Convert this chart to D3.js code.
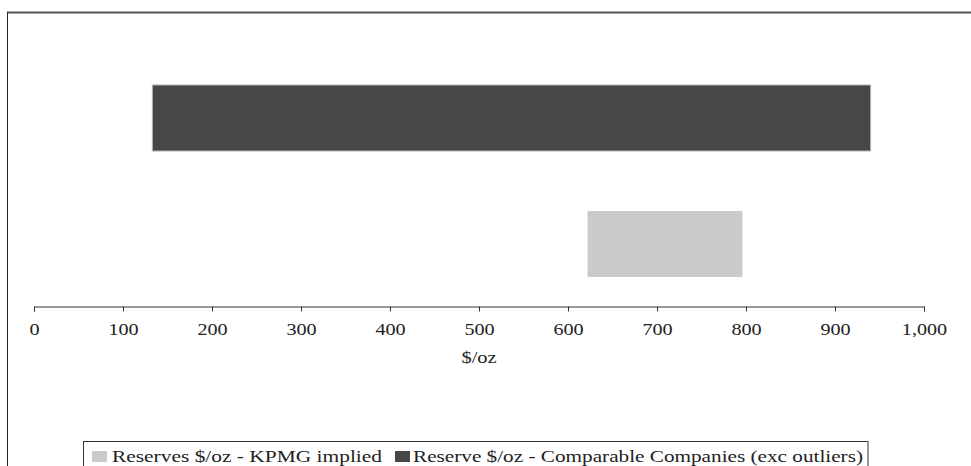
<!DOCTYPE html>
<html>
<head>
<meta charset="utf-8">
<script src="https://cdn.jsdelivr.net/npm/d3@7"></script>
<style>
  html, body { margin: 0; padding: 0; background: #fff; }
  svg { display: block; }
  text { font-family: "Liberation Serif", "Times New Roman", serif; fill: #222; }
</style>
</head>
<body>
<svg id="chart" width="971" height="466"></svg>
<script>
// Data
const categories = ["Reserve $/oz - Comparable Companies (exc outliers)", "Reserves $/oz - KPMG implied"];
const lowValues = [133, 622];
const highValues = [940, 796];
const barColors = ["#474747", "#c9cacc"];
const tickValues = [0, 100, 200, 300, 400, 500, 600, 700, 800, 900, 1000];
const axisTitle = "$/oz";
const legendLabels = ["Reserves $/oz - KPMG implied", "Reserve $/oz - Comparable Companies (exc outliers)"];
const legendColors = ["#c9cacc", "#474747"];

const svg = d3.select("#chart");

// frame
svg.append("line").attr("x1", 7).attr("x2", 971).attr("y1", 12.5).attr("y2", 12.5)
  .attr("stroke", "#555").attr("stroke-width", 2);
svg.append("line").attr("x1", 7.5).attr("x2", 7.5).attr("y1", 12).attr("y2", 466)
  .attr("stroke", "#222").attr("stroke-width", 1);

const x = d3.scaleLinear().domain([0, 1000]).range([34, 924]);
const y = d3.scaleBand().domain(categories).range([55, 307]).paddingInner(0.476).paddingOuter(0.238);

// bars
const data = categories.map((c, i) => ({ c, lo: lowValues[i], hi: highValues[i], color: barColors[i] }));
svg.selectAll("rect.bar").data(data).enter().append("rect")
  .attr("class", "bar")
  .attr("x", d => x(d.lo))
  .attr("width", d => x(d.hi) - x(d.lo))
  .attr("y", d => y(d.c))
  .attr("height", y.bandwidth())
  .attr("fill", d => d.color)
  .attr("stroke", (d, i) => i === 0 ? "#b5b5b5" : "none")
  .attr("stroke-width", 1);

// axis
const axis = d3.axisBottom(x).tickValues(tickValues).tickSize(5).tickSizeOuter(5)
  .tickFormat(d3.format(","));
const gAxis = svg.append("g").attr("transform", "translate(0,306.5)").call(axis);
gAxis.select(".domain").attr("stroke", "#333");
gAxis.selectAll(".tick line").attr("stroke", "#333");
gAxis.selectAll(".tick text")
  .attr("y", 28.5).attr("dy", 0)
  .attr("font-size", 16)
  .attr("fill", "#222")
  .attr("font-family", "'Liberation Serif', serif")
  .attr("transform", "scale(1.26,1)");

// axis title
svg.append("text")
  .attr("transform", `translate(${x(500)},363) scale(1.28,1)`)
  .attr("text-anchor", "middle")
  .attr("font-size", 16)
  .text(axisTitle);

// legend
svg.append("rect").attr("x", 83.5).attr("y", 441.5).attr("width", 784.5).attr("height", 40)
  .attr("fill", "#fff").attr("stroke", "#333").attr("stroke-width", 1);
const legendItems = [
  { label: legendLabels[0], color: legendColors[0], sx: 92, tx: 112, tw: 270 },
  { label: legendLabels[1], color: legendColors[1], sx: 395, tx: 413, tw: 450 }
];
legendItems.forEach(it => {
  svg.append("rect").attr("x", it.sx).attr("y", 451).attr("width", 15).attr("height", 11)
    .attr("fill", it.color);
  svg.append("text").attr("x", it.tx).attr("y", 461.5)
    .attr("font-size", 16)
    .attr("textLength", it.tw).attr("lengthAdjust", "spacingAndGlyphs")
    .text(it.label);
});
</script>
</body>
</html>
